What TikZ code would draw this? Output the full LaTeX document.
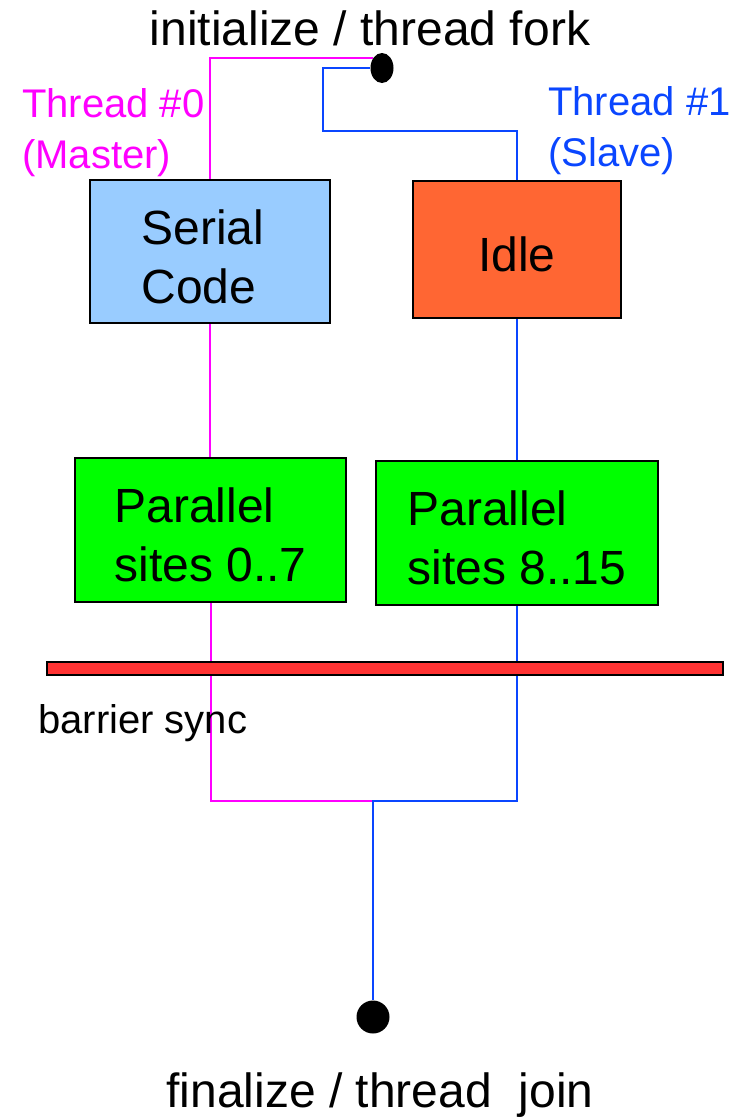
\documentclass[tikz,border=0pt]{standalone}
\usepackage{fontspec}
\setmainfont{Liberation Sans}
\usetikzlibrary{shapes.geometric}

\definecolor{mastercol}{RGB}{255,0,255}
\definecolor{slavecol}{RGB}{10,70,255}
\definecolor{serialfill}{RGB}{153,204,255}
\definecolor{idlefill}{RGB}{255,102,51}
\definecolor{parfill}{RGB}{0,255,0}
\definecolor{barfill}{RGB}{255,51,51}

\tikzset{
  workbox/.style={draw=black, line width=2pt, inner sep=0pt},
  boxtext/.style={align=left, inner sep=0pt,
    font=\fontsize{48}{59}\selectfont},
  masterline/.style={draw=mastercol, line width=2pt},
  slaveline/.style={draw=slavecol, line width=2pt},
  threadlabel/.style={align=left, inner sep=0pt, anchor=north west,
    font=\fontsize{40}{51}\selectfont},
  endpoint/.style={fill=black, inner sep=0pt},
  caption/.style={inner sep=0pt, font=\fontsize{48}{56}\selectfont},
}

\begin{document}
\begin{tikzpicture}[x=1pt, y=-1pt]
  \useasboundingbox (0,0) rectangle (739,1117);

  % fork and join points
  \node[endpoint, ellipse, minimum width=23pt, minimum height=30pt] (fork) at (382,68) {};
  \node[endpoint, circle, minimum size=33pt] (join) at (373,1017) {};

  % work boxes of the two threads
  \node[workbox, fill=serialfill, minimum width=240pt, minimum height=143pt] (serial) at (210,251.5) {};
  \node[workbox, fill=idlefill, minimum width=208pt, minimum height=137pt] (idle) at (517,249.5) {};
  \node[workbox, fill=parfill, minimum width=271pt, minimum height=144pt] (par0) at (210.5,530) {};
  \node[workbox, fill=parfill, minimum width=282pt, minimum height=144pt] (par1) at (517,533) {};

  % box contents, set a little below each box centre
  \node[boxtext] (serialtxt) at ([xshift=-7pt, yshift=-5pt]serial.center) {Serial\\Code};
  \node[boxtext] (idletxt) at ([yshift=-5pt]idle.center) {Idle};
  \node[boxtext] (par0txt) at ([yshift=-5pt]par0.center) {Parallel\\sites 0..7};
  \node[boxtext] (par1txt) at ([yshift=-5pt]par1.center) {Parallel\\sites 8..15};

  % routing corners
  \coordinate (bend) at (323,131);
  \coordinate (merge) at (373,801);

  % master thread (thread 0)
  \draw[masterline] (fork.130) -| (serial.north);
  \draw[masterline] (serial.south) -- (serial.south |- par0.north);
  \draw[masterline] (par0.south) |- (merge);

  % slave thread (thread 1)
  \draw[slaveline] (fork.west) -| (bend) -| (idle.north);
  \draw[slaveline] (idle.south) -- (idle.south |- par1.north);
  \draw[slaveline] (par1.south) |- (merge) -- (join.north);

  % barrier across both threads
  \node[draw=black, line width=2pt, fill=barfill, inner sep=0pt,
        minimum width=676pt, minimum height=13pt] (barrier) at (385,668.5) {};

  % labels
  \node[caption, anchor=base] (ttop) at (370,45) {initialize / thread fork};
  \node[caption, anchor=base] (tbot) at (380,1107) {finalize / thread~~join};
  \node[threadlabel, text=mastercol] (lab0) at (22,88) {Thread \#0\\(Master)};
  \node[threadlabel, text=slavecol] (lab1) at (548,86) {Thread \#1\\(Slave)};
  \node[inner sep=0pt, anchor=base west, font=\fontsize{40}{48}\selectfont] (bsync) at (38,733) {barrier sync};
\end{tikzpicture}
\end{document}
